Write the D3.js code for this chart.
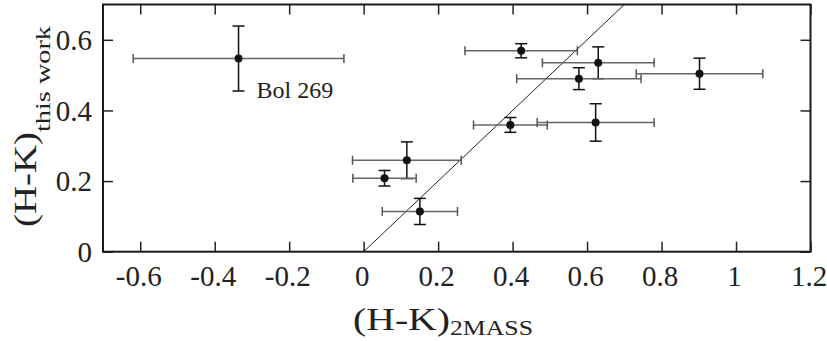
<!DOCTYPE html>
<html>
<head>
<meta charset="utf-8">
<script src="https://cdn.jsdelivr.net/npm/d3@7"></script>
<style>
  body { margin: 0; background: #fff; }
  svg { display: block; }
  text { font-family: "Liberation Serif", "Times New Roman", serif; fill: #222; }
</style>
</head>
<body>
<div id="chart"></div>
<script>
// (H-K) colours: 2MASS vs. this work
const hk2mass   = [-0.336, 0.116, 0.056, 0.151, 0.423, 0.630, 0.578, 0.902, 0.394, 0.623];
const hk2massErr = [0.283, 0.146, 0.085, 0.101, 0.151, 0.150, 0.167, 0.170, 0.099, 0.157];
const hkThisWork = [0.547, 0.259, 0.208, 0.114, 0.569, 0.535, 0.490, 0.504, 0.359, 0.366];
const hkThisWorkErr = [0.092, 0.052, 0.022, 0.037, 0.020, 0.045, 0.031, 0.044, 0.021, 0.053];
const pointNames = ["Bol 269", "", "", "", "", "", "", "", "", ""];

const xTicks = [-0.6, -0.4, -0.2, 0, 0.2, 0.4, 0.6, 0.8, 1, 1.2];
const xTickLabels = ["-0.6", "-0.4", "-0.2", "0", "0.2", "0.4", "0.6", "0.8", "1", "1.2"];
const yTicks = [0, 0.2, 0.4, 0.6];
const yTickLabels = ["0", "0.2", "0.4", "0.6"];
const oneToOne = [[0, 0], [0.7, 0.7]];

const width = 827, height = 341;
const plot = { left: 103, right: 810.5, top: 4.5, bottom: 251.7 };

const svg = d3.select("#chart").append("svg")
    .attr("width", width)
    .attr("height", height);

const x = d3.scaleLinear().domain([-0.7, 1.2]).range([plot.left, plot.right]);
const y = d3.scaleLinear().domain([0, 0.7]).range([plot.bottom, plot.top]);

const points = hk2mass.map((v, i) => ({
    x: v, xe: hk2massErr[i], y: hkThisWork[i], ye: hkThisWorkErr[i], name: pointNames[i]
}));

// axes, ticks pointing inwards on all four sides
const fmtX = d => xTickLabels[xTicks.indexOf(d)];
const fmtY = d => yTickLabels[yTicks.indexOf(d)];

const gBottom = svg.append("g")
    .attr("transform", `translate(0,${plot.bottom})`)
    .call(d3.axisBottom(x).tickValues(xTicks).tickFormat(fmtX).tickSizeInner(-10).tickSizeOuter(0));
const gTop = svg.append("g")
    .attr("transform", `translate(0,${plot.top})`)
    .call(d3.axisTop(x).tickValues(xTicks).tickFormat("").tickSizeInner(-10).tickSizeOuter(0));
const gLeft = svg.append("g")
    .attr("transform", `translate(${plot.left},0)`)
    .call(d3.axisLeft(y).tickValues(yTicks).tickFormat(fmtY).tickSizeInner(-10).tickSizeOuter(0));
const gRight = svg.append("g")
    .attr("transform", `translate(${plot.right},0)`)
    .call(d3.axisRight(y).tickValues(yTicks).tickFormat("").tickSizeInner(-10).tickSizeOuter(0));

[gBottom, gTop, gLeft, gRight].forEach(g => {
    g.select(".domain").remove();
    g.selectAll(".tick line").attr("stroke", "#222").attr("stroke-width", 1.5);
});

gBottom.selectAll(".tick text")
    .attr("y", 286).attr("dy", 0).attr("dx", -2)
    .attr("font-size", 29).attr("fill", "#222")
    .attr("transform", `translate(0,${-plot.bottom})`);
gLeft.selectAll(".tick text")
    .attr("x", -11).attr("dy", "0.34em")
    .attr("font-size", 29).attr("fill", "#222");

// frame
svg.append("rect")
    .attr("x", plot.left).attr("y", plot.top)
    .attr("width", plot.right - plot.left).attr("height", plot.bottom - plot.top)
    .attr("fill", "none").attr("stroke", "#1a1a1a").attr("stroke-width", 2);

// 1:1 line
svg.append("path")
    .datum(oneToOne)
    .attr("d", d3.line().x(d => x(d[0])).y(d => y(d[1])))
    .attr("stroke", "#222").attr("stroke-width", 1).attr("fill", "none");

// error bars
const bars = svg.append("g").selectAll("g").data(points).enter().append("g");
const xCap = 4.5, yCap = 6;

bars.append("line")
    .attr("x1", d => x(d.x - d.xe)).attr("x2", d => x(d.x + d.xe))
    .attr("y1", d => y(d.y)).attr("y2", d => y(d.y))
    .attr("stroke", "#666").attr("stroke-width", 1.5);
bars.append("line")
    .attr("x1", d => x(d.x - d.xe)).attr("x2", d => x(d.x - d.xe))
    .attr("y1", d => y(d.y) - xCap).attr("y2", d => y(d.y) + xCap)
    .attr("stroke", "#555").attr("stroke-width", 1.5);
bars.append("line")
    .attr("x1", d => x(d.x + d.xe)).attr("x2", d => x(d.x + d.xe))
    .attr("y1", d => y(d.y) - xCap).attr("y2", d => y(d.y) + xCap)
    .attr("stroke", "#555").attr("stroke-width", 1.5);

bars.append("line")
    .attr("x1", d => x(d.x)).attr("x2", d => x(d.x))
    .attr("y1", d => y(d.y - d.ye)).attr("y2", d => y(d.y + d.ye))
    .attr("stroke", "#111").attr("stroke-width", 1.5);
bars.append("line")
    .attr("x1", d => x(d.x) - yCap).attr("x2", d => x(d.x) + yCap)
    .attr("y1", d => y(d.y + d.ye)).attr("y2", d => y(d.y + d.ye))
    .attr("stroke", "#111").attr("stroke-width", 1.5);
bars.append("line")
    .attr("x1", d => x(d.x) - yCap).attr("x2", d => x(d.x) + yCap)
    .attr("y1", d => y(d.y - d.ye)).attr("y2", d => y(d.y - d.ye))
    .attr("stroke", "#111").attr("stroke-width", 1.5);

bars.append("circle")
    .attr("cx", d => x(d.x)).attr("cy", d => y(d.y))
    .attr("r", 4).attr("fill", "#111");

// point label
svg.append("g").selectAll("text")
    .data(points.filter(d => d.name))
    .enter().append("text")
    .attr("x", d => x(d.x) + 18)
    .attr("y", d => y(d.y) + 39)
    .attr("font-size", 24)
    .text(d => d.name);

// axis titles
svg.append("text")
    .attr("x", 353).attr("y", 330)
    .attr("font-size", 31)
    .attr("textLength", 97).attr("lengthAdjust", "spacingAndGlyphs")
    .text("(H-K)");
svg.append("text")
    .attr("x", 450).attr("y", 335)
    .attr("font-size", 21.5)
    .attr("textLength", 83).attr("lengthAdjust", "spacingAndGlyphs")
    .text("2MASS");

const yTitle = svg.append("g").attr("transform", "rotate(-90)");
yTitle.append("text")
    .attr("x", -227).attr("y", 36)
    .attr("font-size", 31)
    .attr("textLength", 95).attr("lengthAdjust", "spacingAndGlyphs")
    .text("(H-K)");
yTitle.append("text")
    .attr("x", -132).attr("y", 50)
    .attr("font-size", 21.5)
    .attr("textLength", 106).attr("lengthAdjust", "spacingAndGlyphs")
    .text("this work");
</script>
</body>
</html>
